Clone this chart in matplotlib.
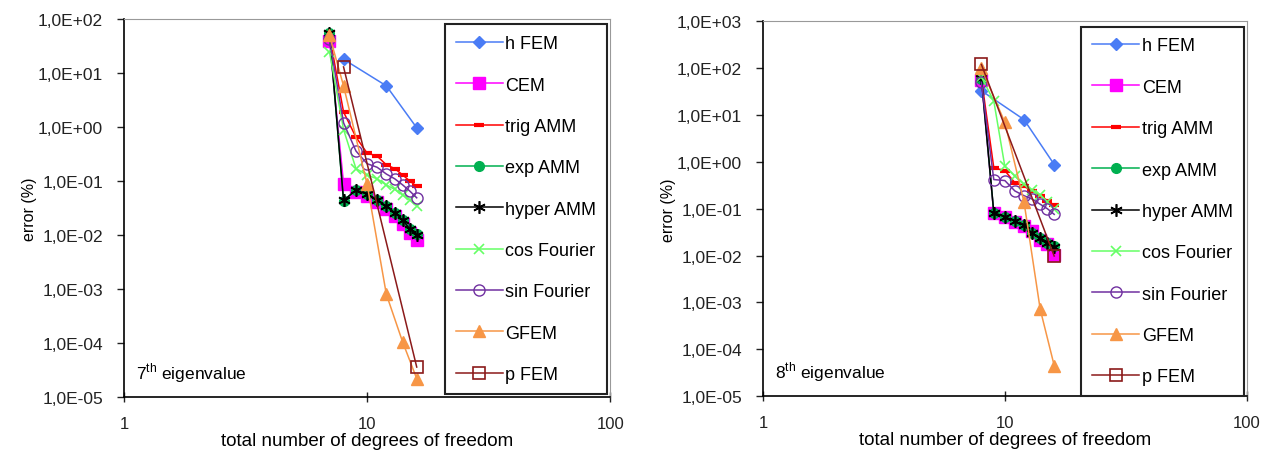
import numpy as np
import matplotlib
matplotlib.use("Agg")
import matplotlib.pyplot as plt
from matplotlib.ticker import FuncFormatter, FixedLocator, NullLocator

plt.rcParams['font.family'] = ['Liberation Sans', 'DejaVu Sans']
plt.rcParams['mathtext.fontset'] = 'custom'
plt.rcParams['mathtext.rm'] = 'Liberation Sans'

labels = ['h FEM', 'CEM', 'trig AMM', 'exp AMM', 'hyper AMM',
          'cos Fourier', 'sin Fourier', 'GFEM', 'p FEM']

# 7th eigenvalue
x7 = [7, 8, 9, 10, 11, 12, 13, 14, 15, 16]
hfem_x = [8, 12, 16]
hfem_7 = [18, 5.8, 0.97]
cem_7 = [40, 0.09, 0.062, 0.052, 0.041, 0.031, 0.023, 0.016, 0.011, 0.0082]
trig_7 = [50, 1.9, 0.65, 0.33, 0.29, 0.2, 0.17, 0.13, 0.1, 0.08]
exp_7 = [55, 0.043, 0.068, 0.058, 0.045, 0.034, 0.026, 0.019, 0.013, 0.0105]
hyper_7 = [56, 0.044, 0.068, 0.057, 0.045, 0.034, 0.026, 0.019, 0.013, 0.0102]
cos_7 = [25, 0.9, 0.17, 0.13, 0.11, 0.085, 0.07, 0.055, 0.045, 0.035]
sin_7 = [42, 1.2, 0.36, 0.21, 0.18, 0.135, 0.11, 0.085, 0.065, 0.049]
gfem_x7 = [7, 8, 10, 12, 14, 16]
gfem_7 = [50, 5.8, 0.088, 8e-4, 1.05e-4, 2.2e-5]
pfem_x = [8, 16]
pfem_7 = [13, 3.6e-5]

# 8th eigenvalue
x8 = [8, 9, 10, 11, 12, 13, 14, 15, 16]
hfem_8 = [33, 8, 0.88]
cem_8 = [55, 0.08, 0.066, 0.052, 0.043, 0.034, 0.022, 0.018, 0.0105]
trig_8 = [60, 0.75, 0.65, 0.36, 0.3, 0.24, 0.19, 0.15, 0.12]
exp_8 = [60, 0.083, 0.068, 0.055, 0.045, 0.03, 0.024, 0.019, 0.016]
hyper_8 = [62, 0.083, 0.067, 0.055, 0.044, 0.03, 0.024, 0.019, 0.0155]
cos_8 = [65, 20, 0.8, 0.5, 0.33, 0.25, 0.2, 0.14, 0.1]
sin_8 = [50, 0.42, 0.4, 0.24, 0.19, 0.16, 0.125, 0.1, 0.076]
gfem_x8 = [8, 10, 12, 14, 16]
gfem_8 = [100, 7, 0.14, 7.2e-4, 4.5e-5]
pfem_8 = [120, 0.0098]

styles = [
    dict(color='#4a7cf5', marker='D', ms=6, mfc='#4a7cf5', mec='#4a7cf5'),
    dict(color='#ff00ff', marker='s', ms=8, mfc='#ff00ff', mec='#ff00ff'),
    dict(color='#ff0000', marker='_', ms=7, mew=3),
    dict(color='#00b050', marker='o', ms=7, mfc='#00b050', mec='#00b050'),
    dict(color='#000000', marker=(6, 2, 0), ms=9, mew=1.2),
    dict(color='#66ff66', marker='x', ms=7, mew=1.2),
    dict(color='#7030a0', marker='o', ms=8, mfc='none', mec='#7030a0'),
    dict(color='#f79646', marker='^', ms=8, mfc='#f79646', mec='#f79646'),
    dict(color='#8b1a1a', marker='s', ms=8, mfc='none', mec='#8b1a1a', mew=1.2),
]


def sci_fmt(v, pos):
    e = int(round(np.log10(v)))
    return '1,0E%s%02d' % ('+' if e >= 0 else '-', abs(e))


def panel(ax, series, ytop, note):
    for (xs, ys), lab, st in zip(series, labels, styles):
        ax.plot(xs, ys, lw=1.1, label=lab, **st)
    ax.set_xscale('log')
    ax.set_yscale('log')
    ax.set_xlim(1, 100)
    ax.set_ylim(1e-5, ytop)
    ax.xaxis.set_major_locator(FixedLocator([1, 10, 100]))
    ax.xaxis.set_minor_locator(NullLocator())
    ax.set_xticklabels(['1', '10', '100'])
    ax.yaxis.set_major_locator(FixedLocator([10.0 ** k for k in range(-5, int(np.log10(ytop)) + 1)]))
    ax.yaxis.set_minor_locator(NullLocator())
    ax.yaxis.set_major_formatter(FuncFormatter(sci_fmt))
    ax.tick_params(axis='y', labelsize=12.5, length=5, width=1, pad=10, colors='#222222')
    ax.tick_params(axis='x', labelsize=12, direction='inout', length=7, width=1, pad=10,
                   colors='#222222')
    for s in ['top', 'right']:
        ax.spines[s].set_color('#999999')
    for s in ['left', 'bottom']:
        ax.spines[s].set_linewidth(1.2)
    ax.set_xlabel('total number of degrees of freedom', fontsize=13.5, labelpad=1)
    ax.set_ylabel('error (%)', fontsize=11.5, labelpad=1)
    ax.text(0.025, 0.05, note, transform=ax.transAxes, fontsize=12.5)
    leg = ax.legend(loc='upper right', bbox_to_anchor=(0.994, 0.986), borderaxespad=0,
                    fontsize=13, labelspacing=1.35, handlelength=2.6, handletextpad=0.15,
                    fancybox=False, edgecolor='#222222', framealpha=1,
                    borderpad=0.6)
    leg.get_frame().set_linewidth(1.5)


fig = plt.figure(figsize=(12.76, 4.56), dpi=100)
ax1 = fig.add_axes([0.0972, 0.127, 0.381, 0.829])
ax2 = fig.add_axes([0.598, 0.129, 0.379, 0.822])

panel(ax1, [(hfem_x, hfem_7), (x7, cem_7), (x7, trig_7), (x7, exp_7), (x7, hyper_7),
            (x7, cos_7), (x7, sin_7), (gfem_x7, gfem_7), (pfem_x, pfem_7)],
      1e2, r'7$^{\mathrm{th}}$ eigenvalue')
panel(ax2, [(hfem_x, hfem_8), (x8, cem_8), (x8, trig_8), (x8, exp_8), (x8, hyper_8),
            (x8, cos_8), (x8, sin_8), (gfem_x8, gfem_8), (pfem_x, pfem_8)],
      1e3, r'8$^{\mathrm{th}}$ eigenvalue')

fig.savefig('out.png', dpi=100)
